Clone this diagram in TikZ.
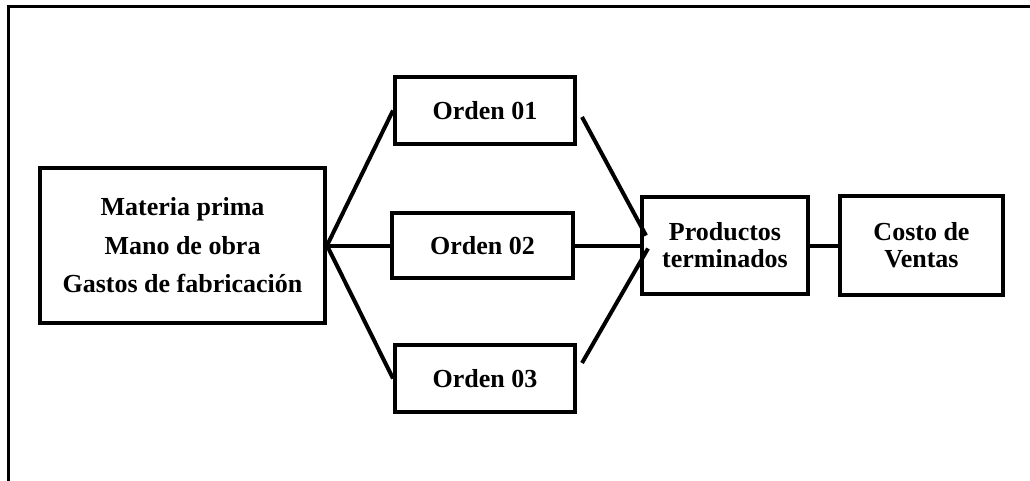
\documentclass[tikz,border=0pt]{standalone}
\usepackage{fontspec}
\setmainfont{Liberation Serif}
\begin{document}
\begin{tikzpicture}[x=1pt,y=-1pt,
  box/.style={draw,line width=4pt,inner sep=0pt,align=center},
  big/.style={font={\fontsize{26}{38.5}\selectfont\bfseries}},
  small/.style={font={\fontsize{26}{27}\selectfont\bfseries}},
  link/.style={line width=4pt},
  frame/.style={line width=3pt}]
\useasboundingbox (0,0) rectangle (1030,481);
\draw[frame] (8,481) -- (8,7) -- (1031,7);
\node[box,big,minimum width=285pt,minimum height=155pt] (mp) at (182.5,245.5)
  {Materia prima\\Mano de obra\\Gastos de fabricación};
\node[box,small,minimum width=180pt,minimum height=67pt] (o1) at (485,110.5) {Orden 01};
\node[box,small,minimum width=181pt,minimum height=65pt] (o2) at (482.5,245.5) {Orden 02};
\node[box,small,minimum width=180pt,minimum height=67pt] (o3) at (485,378.5) {Orden 03};
\node[box,small,minimum width=166pt,minimum height=96pt] (pt) at (725,245.5)
  {Productos\\terminados};
\node[box,small,minimum width=163pt,minimum height=98pt] (cv) at (921.5,245.5)
  {Costo de\\Ventas};
\draw[link] (mp.east) -- (o1.west);
\draw[link] (mp.east) -- (o2.west);
\draw[link] (mp.east) -- (o3.west);
\draw[link] ([shift={(5,6.5)}]o1.east) -- ([shift={(6,-10)}]pt.west);
\draw[link] (o2.east) -- (pt.west);
\draw[link] ([shift={(5,-15.5)}]o3.east) -- ([shift={(8,3)}]pt.west);
\draw[link] (pt.east) -- (cv.west);
\end{tikzpicture}
\end{document}
